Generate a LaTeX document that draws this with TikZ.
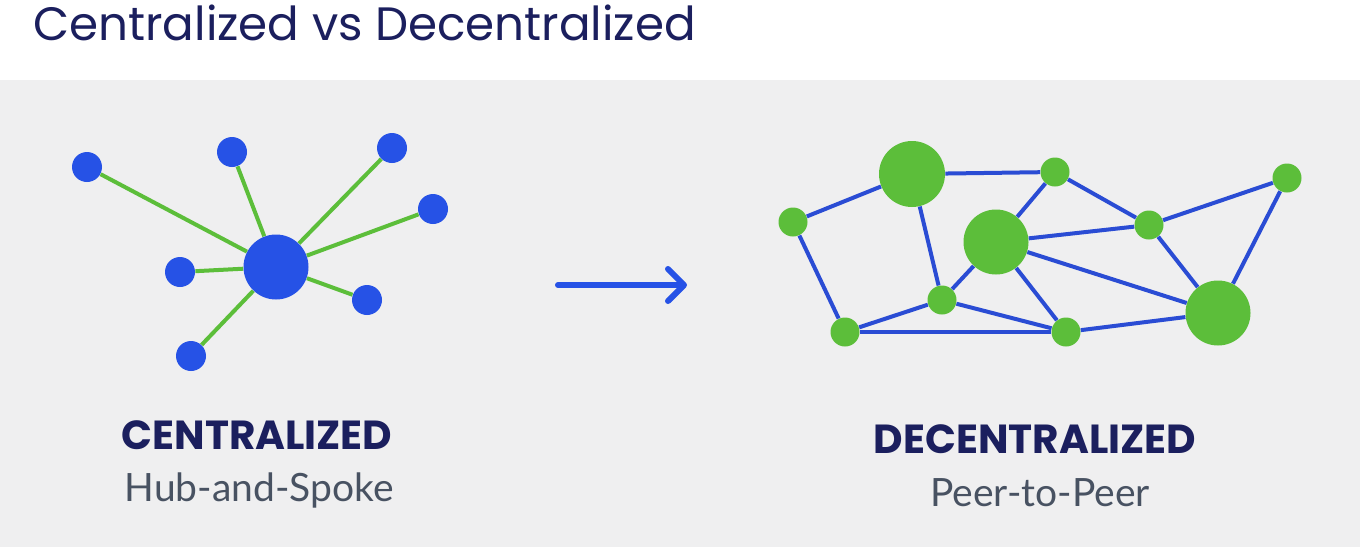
\documentclass[tikz,border=0pt]{standalone}
\usepackage{fontspec}
\setmainfont{Poppins}
\newfontfamily\captionfont{Lato}
\usetikzlibrary{arrows.meta}
\definecolor{hubblue}{RGB}{38, 82, 230}
\definecolor{linkblue}{RGB}{42, 76, 212}
\definecolor{peergreen}{RGB}{92, 190, 58}
\definecolor{titlenavy}{RGB}{27, 31, 94}
\definecolor{captiongray}{RGB}{72, 82, 98}
\definecolor{panelgray}{RGB}{239, 239, 240}

\begin{document}
\begin{tikzpicture}[x=0.5pt, y=-0.5pt,
    spoke/.style={circle, fill=hubblue, inner sep=0pt, minimum size=15pt},
    hub/.style={spoke, minimum size=32.5pt},
    peer/.style={circle, fill=peergreen, inner sep=0pt, minimum size=14.5pt},
    bigpeer/.style={peer, minimum size=32.5pt},
    spokeline/.style={draw=peergreen, line width=2pt},
    meshline/.style={draw=linkblue, line width=2pt},
    headline/.style={font=\fontsize{20.3}{24}\selectfont\bfseries, text=titlenavy, inner sep=0pt, anchor=base},
    subline/.style={font=\captionfont\fontsize{19.5}{24}\selectfont, text=captiongray, inner sep=0pt, anchor=base}]
    % Background
    \fill[white] (0,0) rectangle (1360,547);
    \fill[panelgray] (0,80) rectangle (1360,547);
    \useasboundingbox (0,0) rectangle (1360,547);

    % Title
    \node[anchor=base west, inner sep=0pt, text=titlenavy, font=\fontsize{23.4}{28}\selectfont] (title) at (33,40) {Centralized vs Decentralized};

    % Hub and spokes
    \node[hub] (hub) at (276,267) {};
    \foreach \n/\x/\y in {s1/87/167, s2/232/152, s3/392/148, s4/433/209, s5/180/272, s6/367/300, s7/191/356} {
        \node[spoke] (\n) at (\x,\y) {};
        \draw[spokeline] (hub) -- (\n);
    }
    \node[headline] (cenhead) at (257,449) {CENTRALIZED};
    \node[subline] (censub) at (259,501) {Hub-and-Spoke};

    % Arrow
    \coordinate (arrowtail) at (558,285);
    \coordinate (arrowtip) at (687,285);
    \draw[hubblue, line width=3pt, line cap=round, -{Straight Barb[length=8pt, width=16pt, round]}] (arrowtail) -- (arrowtip);

    % Peer-to-peer mesh
    \foreach \n/\x/\y in {pB/1055/172, pC/1287/178, pD/793/222, pF/1149/225, pG/942/300, pH/845/332, pI/1066/332} {
        \node[peer] (\n) at (\x,\y) {};
    }
    \node[bigpeer, minimum size=33pt] (pA) at (912,174) {};
    \node[bigpeer] (pE) at (996,242) {};
    \node[bigpeer] (pJ) at (1218,313) {};
    \foreach \a/\b in {pD/pA, pA/pB, pA/pG, pD/pH, pB/pE, pB/pF, pE/pF, pF/pC, pC/pJ, pF/pJ, pE/pJ, pE/pG, pE/pI, pG/pH, pG/pI, pH/pI, pI/pJ} {
        \draw[meshline] (\a) -- (\b);
    }
    \node[headline] (dechead) at (1035,453) {DECENTRALIZED};
    \node[subline] (decsub) at (1040,506) {Peer-to-Peer};
\end{tikzpicture}
\end{document}
